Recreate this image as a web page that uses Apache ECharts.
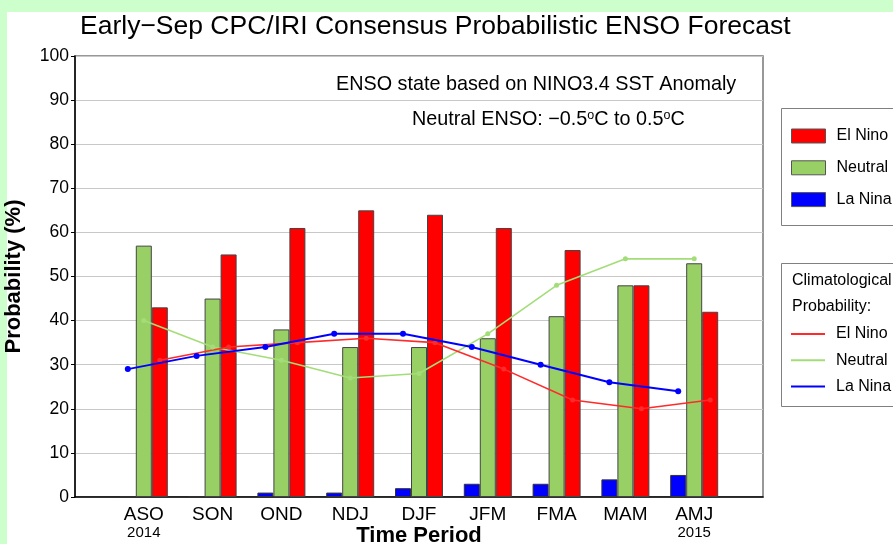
<!DOCTYPE html>
<html>
<head>
<meta charset="utf-8">
<script src="https://cdn.jsdelivr.net/npm/echarts@6/dist/echarts.min.js"></script>
<style>
  html, body { margin: 0; padding: 0; background: #fff; }
  #chart { width: 893px; height: 544px; }
</style>
</head>
<body>
<div id="chart"></div>
<script>
// ---- data ----
const categories = ['ASO', 'SON', 'OND', 'NDJ', 'DJF', 'JFM', 'FMA', 'MAM', 'AMJ'];
const yearLabels = ['2014', '', '', '', '', '', '', '', '2015'];
const elNino  = [43, 55, 61, 65, 64, 61, 56, 48, 42];
const neutral = [57, 45, 38, 34, 34, 36, 41, 48, 53];
const laNina  = [0, 0, 1, 1, 2, 3, 3, 4, 5];
const climElNino  = [31, 34, 35, 36, 35, 29, 22, 20, 22];
const climNeutral = [40, 34, 31, 27, 28, 37, 48, 54, 54];
const climLaNina  = [29, 32, 34, 37, 37, 34, 30, 26, 24];
const yTicks = [0, 10, 20, 30, 40, 50, 60, 70, 80, 90, 100];

// pad with an empty slot on each side so categories sit on ticks 1..9 of a 10-interval axis
const axisCats = [''].concat(categories, ['']);
const pad = arr => [null].concat(arr, [null]);

const FONT = '"Liberation Sans", Arial, Helvetica, sans-serif';
const RED = '#ff0000', GREEN = '#99d066', BLUE = '#0000ff';

const chart = echarts.init(document.getElementById('chart'), null, { renderer: 'canvas' });

const gridBase = { top: 56, width: 688, height: 441, containLabel: false, outerBoundsMode: 'none' };
const hiddenX = i => ({ gridIndex: i, type: 'category', data: axisCats, boundaryGap: false, show: false });
const hiddenY = i => ({ gridIndex: i, type: 'value', min: 0, max: 100, show: false });

const option = {
  backgroundColor: '#ffffff',
  animation: false,
  textStyle: { fontFamily: FONT },
  title: {
    text: 'Early\u2212Sep CPC/IRI Consensus Probabilistic ENSO Forecast',
    left: 80, top: 13, padding: 0,
    textStyle: { fontFamily: FONT, fontSize: 26.5, fontWeight: 'normal', color: '#000' }
  },
  grid: [
    Object.assign({ left: 75, show: true, borderColor: '#777', borderWidth: 1.5, backgroundColor: 'transparent' }, gridBase),
    Object.assign({ left: 59 }, gridBase),
    Object.assign({ left: 91 }, gridBase)
  ],
  xAxis: [
    {
      gridIndex: 0, type: 'category', data: axisCats, boundaryGap: false,
      axisLine: { lineStyle: { color: '#000', width: 1.5 } },
      axisTick: { show: false },
      splitLine: { show: false },
      axisLabel: {
        interval: 0, margin: 9, color: '#000', fontFamily: FONT, lineHeight: 18,
        formatter: (v, i) => {
          if (!v) return '';
          const yr = yearLabels[i - 1];
          return '{m|' + v + '}' + (yr ? '\n{y|' + yr + '}' : '');
        },
        rich: {
          m: { fontSize: 19, fontFamily: FONT, color: '#000', lineHeight: 18 },
          y: { fontSize: 15, fontFamily: FONT, color: '#000', lineHeight: 17 }
        }
      },
      name: 'Time Period', nameLocation: 'middle', nameGap: 28, nameMoveOverlap: false,
      nameTextStyle: { fontFamily: FONT, fontSize: 22, fontWeight: 'bold', color: '#000' }
    },
    hiddenX(1), hiddenX(2)
  ],
  yAxis: [
    {
      gridIndex: 0, type: 'value', min: 0, max: 100, interval: 10,
      axisLine: { show: true, lineStyle: { color: '#000', width: 1.5 } },
      axisTick: { show: true, length: 4, lineStyle: { color: '#000' } },
      splitLine: { show: true, lineStyle: { color: '#c8c8c8', width: 1 } },
      axisLabel: { color: '#000', fontSize: 17.5, fontFamily: FONT, margin: 6,
                   formatter: v => (yTicks.indexOf(v) >= 0 ? String(v) : '') },
      name: 'Probability (%)', nameLocation: 'middle', nameGap: 50, nameMoveOverlap: false,
      nameTextStyle: { fontFamily: FONT, fontSize: 22, fontWeight: 'bold', color: '#000' }
    },
    hiddenY(1), hiddenY(2)
  ],
  legend: [
    {
      data: ['El Nino', 'Neutral', 'La Nina'],
      orient: 'vertical', left: 791, top: 128,
      itemWidth: 34, itemHeight: 14, itemGap: 15.8, icon: 'rect',
      selectedMode: false, padding: 0,
      itemStyle: { borderColor: '#555', borderWidth: 1 },
      textStyle: { fontFamily: FONT, fontSize: 16, lineHeight: 14, color: '#000', padding: [0, 0, 0, 6] }
    },
    {
      data: ['clim El Nino', 'clim Neutral', 'clim La Nina'],
      formatter: n => n.replace('clim ', ''),
      orient: 'vertical', left: 791, top: 326,
      itemWidth: 34, itemHeight: 2, itemGap: 10.2, icon: 'rect',
      selectedMode: false, padding: 0,
      itemStyle: { borderWidth: 0 },
      textStyle: { fontFamily: FONT, fontSize: 16, lineHeight: 14, color: '#000', padding: [0, 0, 0, 6] }
    }
  ],
  graphic: [
    { type: 'rect', shape: { x: 0, y: 0, width: 893, height: 12 }, style: { fill: '#ccffcc' }, silent: true, z: -10 },
    { type: 'rect', shape: { x: 0, y: 0, width: 7, height: 544 }, style: { fill: '#ccffcc' }, silent: true, z: -10 },
    { type: 'rect', shape: { x: 781.5, y: 108.5, width: 130, height: 117 }, style: { fill: 'none', stroke: '#808080', lineWidth: 1 }, silent: true },
    { type: 'rect', shape: { x: 781.5, y: 263.5, width: 130, height: 143 }, style: { fill: 'none', stroke: '#808080', lineWidth: 1 }, silent: true },
    { type: 'text', x: 792, y: 281, style: { text: 'Climatological', fontFamily: FONT, fontSize: 16, fill: '#000', verticalAlign: 'middle', align: 'left' }, silent: true },
    { type: 'text', x: 792, y: 307, style: { text: 'Probability:', fontFamily: FONT, fontSize: 16, fill: '#000', verticalAlign: 'middle', align: 'left' }, silent: true },
    { type: 'text', left: 336, top: 75, style: { text: 'ENSO state based on NINO3.4 SST Anomaly', fontFamily: FONT, fontSize: 19.8, fill: '#000' }, silent: true },
    { type: 'text', left: 412, top: 109, style: {
        text: 'Neutral ENSO: \u22120.5{s|o}C to 0.5{s|o}C', fontFamily: FONT, fontSize: 19.8, fill: '#000',
        rich: { s: { fontSize: 12.5, fontFamily: FONT, fill: '#000', verticalAlign: 'bottom', padding: [0, 0, 9, 0] } }
      }, silent: true }
  ],
  series: [
    { type: 'bar', name: 'La Nina', data: pad(laNina), barWidth: 16, barGap: '0%',
      itemStyle: { color: BLUE, borderColor: '#333', borderWidth: 1 }, z: 2 },
    { type: 'bar', name: 'Neutral', data: pad(neutral), barWidth: 16, barGap: '0%',
      itemStyle: { color: GREEN, borderColor: '#444', borderWidth: 1 }, z: 2 },
    { type: 'bar', name: 'El Nino', data: pad(elNino), barWidth: 16, barGap: '0%',
      itemStyle: { color: RED, borderColor: '#444', borderWidth: 1 }, z: 2 },
    { type: 'line', name: 'clim Neutral', xAxisIndex: 0, yAxisIndex: 0, data: pad(climNeutral),
      symbol: 'circle', symbolSize: 5, clip: false, z: 5,
      lineStyle: { color: '#a3dd78', width: 1.6 }, itemStyle: { color: '#a3dd78' } },
    { type: 'line', name: 'clim El Nino', xAxisIndex: 2, yAxisIndex: 2, data: pad(climElNino),
      symbol: 'circle', symbolSize: 5, clip: false, z: 5,
      lineStyle: { color: '#ff2a2a', width: 1.6 }, itemStyle: { color: '#ff2a2a' } },
    { type: 'line', name: 'clim La Nina', xAxisIndex: 1, yAxisIndex: 1, data: pad(climLaNina),
      symbol: 'circle', symbolSize: 6, clip: false, z: 6,
      lineStyle: { color: BLUE, width: 2 }, itemStyle: { color: BLUE } }
  ]
};

chart.setOption(option);
</script>
</body>
</html>
